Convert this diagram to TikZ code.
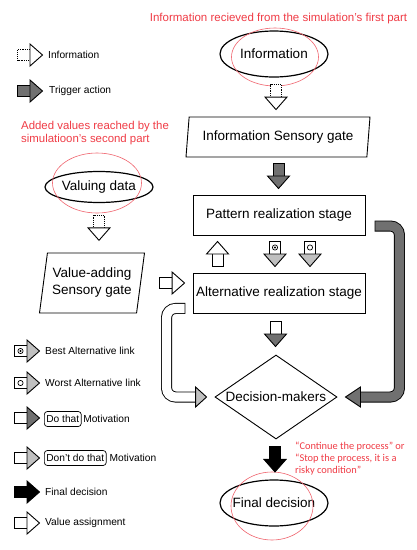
\documentclass[tikz,border=0pt]{standalone}
\usepackage{fontspec}
\setmainfont{Liberation Sans}
\newfontfamily\carlito{Carlito}
\usetikzlibrary{shapes.geometric,calc}
\definecolor{dgray}{RGB}{112,112,112}
\definecolor{lgray}{RGB}{192,192,192}
\definecolor{redtxt}{RGB}{240,60,70}
\definecolor{redline}{RGB}{240,100,110}
\tikzset{
 mfont/.style={font=\fontsize{13.5}{17}\selectfont},
 legfont/.style={font=\fontsize{10.2}{12}\selectfont},
 ell/.style={ellipse, draw, line width=1.2pt, inner ysep=0pt, inner xsep=-8pt, mfont},
 redoval/.style={ellipse, draw=redline, line width=0.6pt, inner sep=0pt},
 stage/.style={rectangle, draw, line width=0.9pt, minimum width=172, minimum height=40, inner sep=0pt, mfont},
 gate/.style={trapezium, draw, line width=0.9pt, trapezium left angle=76, trapezium right angle=104, trapezium stretches body, inner sep=0pt, mfont, align=center},
 legtext/.style={anchor=west, legfont, inner sep=0pt},
 redlabel/.style={text=redtxt, inner sep=0pt},
 motbox/.style={anchor=west, legfont, draw, line width=0.7pt, rounded corners=3pt, inner xsep=2pt, inner ysep=0pt, minimum height=15},
 pics/barrow/.style n args={3}{code={
   \fill[#1] (-12.5,-5.5) rectangle (0,5.5);
   \draw[line width=0.9pt,#3] (0,-5.5) -- (-12.5,-5.5) -- (-12.5,5.5) -- (0,5.5);
   \draw[line width=0.9pt, fill=#2, line join=miter] (0,-11) -- (12.5,0) -- (0,11) -- cycle;
 }},
 pics/bestmark/.style={code={\draw[line width=0.7pt, fill=white] (-6.5,0) circle (2.6); \fill (-6.5,0) circle (1.1);}},
 pics/worstmark/.style={code={\draw[line width=0.7pt, fill=white] (-6.5,0) circle (2.6);}},
}
\begin{document}
\begin{tikzpicture}[x=1pt,y=-1pt]
\useasboundingbox (0,0) rectangle (416,550);
\fill[white] (0,0) rectangle (416,550);

% main nodes
\node[ell, minimum width=108, minimum height=46] (info) at (274,54) {Information};
\node[redoval, minimum width=87, minimum height=58] (inforing) at (275,57) {};
\node[redlabel, font=\fontsize{11.5}{14}\selectfont] (toplabel) at (278.5,19) {Information recieved from the simulation's first part};
\node[gate, minimum width=184, minimum height=40] (isg) at (278,137) {Information Sensory gate};
\node[stage] (pattern) at (279,215) {Pattern realization stage};
\node[stage] (alt) at (279,293) {Alternative realization stage};
\node[diamond, draw, line width=0.9pt, aspect=1.45, inner sep=0pt, minimum width=122, minimum height=84, mfont] (dm) at (276,397) {Decision-makers};
\node[ell, minimum width=108, minimum height=46] (fd) at (274,503) {Final decision};
\node[redoval, minimum width=82, minimum height=68] (fdring) at (272,506) {};
\node[redlabel, font=\carlito\fontsize{10.4}{12}\selectfont, align=left, anchor=west] (fdlabel) at (295,459) {“Continue the process” or\\“Stop the process, it is a\\risky condition”};
\node[redlabel, font=\fontsize{11.4}{13}\selectfont, align=left, anchor=west] (vdlabel) at (21,133) {Added values reached by the\\simulatioon's second part};
\node[ell, minimum width=108, minimum height=31] (vd) at (99,187) {Valuing data};
\node[redoval, minimum width=89, minimum height=60] (vdring) at (97,183) {};
\node[gate, minimum width=105, minimum height=60, trapezium left angle=75, trapezium right angle=105] (vag) at (92,283) {Value-adding\\Sensory gate};

% block arrows between nodes
\pic[rotate=-90] at ($(info.south)!0.5!(isg.north)$) {barrow={white}{white}{densely dotted}};
\pic[rotate=-90] at ($(isg.south)!0.5!(pattern.north)$) {barrow={dgray}{dgray}{solid}};
\pic[rotate=90] at ($(pattern.south west)!0.5!(alt.north west)+(25,0)$) {barrow={white}{white}{solid}};
\pic[rotate=-90] at ($(pattern.south)!0.5!(alt.north)+(-4,0)$) {barrow={white}{lgray}{solid}};
\pic[rotate=-90] at ($(pattern.south)!0.5!(alt.north)+(-4,0)$) {bestmark};
\pic[rotate=-90] at ($(pattern.south)!0.5!(alt.north)+(31,0)$) {barrow={white}{lgray}{solid}};
\pic[rotate=-90] at ($(pattern.south)!0.5!(alt.north)+(31,0)$) {worstmark};
\pic[rotate=-90] at ($(alt.south)!0.5!(dm.north)+(-2,0)$) {barrow={white}{dgray}{solid}};
\pic[rotate=-90] at ($(dm.south)!0.5!(fd.north)$) {barrow={black}{black}{solid}};
\pic[rotate=-90] at ($(vd.south)!0.5!(vd.south|-vag.north)$) {barrow={white}{white}{densely dotted}};
\pic at ($(alt.west)+(-20.5,-10)$) {barrow={white}{white}{solid}};

% curved arrows
\coordinate (ls) at ($(alt.south west)+(-8,-5)$);
\coordinate (lt) at ($(dm.west)+(-8,0)$);
\draw[line width=11pt, rounded corners=9pt] ($(ls)+(0.8,0)$) -- ($(ls)+(-18,0)$) -- ($(ls|-lt)+(-18,0)$) -- ($(lt)+(-11,0)$);
\draw[line width=9.2pt, white, rounded corners=9pt] (ls) -- ($(ls)+(-18,0)$) -- ($(ls|-lt)+(-18,0)$) -- ($(lt)+(-11,0)$);
\draw[line width=0.9pt, fill=lgray] ($(lt)+(-11,-10)$) -- (lt) -- ($(lt)+(-11,10)$) -- cycle;

\coordinate (rs) at ($(pattern.east)+(10,11)$);
\coordinate (rt) at ($(dm.east)+(8,0)$);
\draw[line width=11pt, rounded corners=9pt] ($(rs)+(-0.8,0)$) -- ($(rs)+(24,0)$) -- ($(rs|-rt)+(24,0)$) -- ($(rt)+(15,0)$);
\draw[line width=9.2pt, dgray, rounded corners=9pt] (rs) -- ($(rs)+(24,0)$) -- ($(rs|-rt)+(24,0)$) -- ($(rt)+(15,0)$);
\draw[line width=0.9pt, fill=dgray] ($(rt)+(15,-10)$) -- (rt) -- ($(rt)+(15,10)$) -- cycle;

% legend
\pic at (30,55) {barrow={white}{white}{densely dotted}};
\node[legtext] (lg1) at (48,55) {Information};
\pic at (30,91) {barrow={dgray}{dgray}{solid}};
\node[legtext] (lg2) at (49,91) {Trigger action};
\pic at (27,351) {barrow={white}{lgray}{solid}};
\pic at (27,351) {bestmark};
\node[legtext] (lg3) at (45,351) {Best Alternative link};
\pic at (27,383) {barrow={white}{lgray}{solid}};
\pic at (27,383) {worstmark};
\node[legtext] (lg4) at (45,383) {Worst Alternative link};
\pic at (27,418) {barrow={white}{dgray}{solid}};
\node[motbox] (lg5) at (44,419) {Do that};
\node[legtext] (lg5b) at ($(lg5.east)+(1.5,0)$) {Motivation};
\pic at (27,458) {barrow={white}{lgray}{solid}};
\node[motbox] (lg6) at (44,458) {Don't do that};
\node[legtext] (lg6b) at ($(lg6.east)+(3,0)$) {Motivation};
\pic at (27,492) {barrow={black}{black}{solid}};
\node[legtext] (lg7) at (45,492) {Final decision};
\pic at (27,523) {barrow={white}{white}{solid}};
\node[legtext] (lg8) at (45,523) {Value assignment};
\end{tikzpicture}
\end{document}
